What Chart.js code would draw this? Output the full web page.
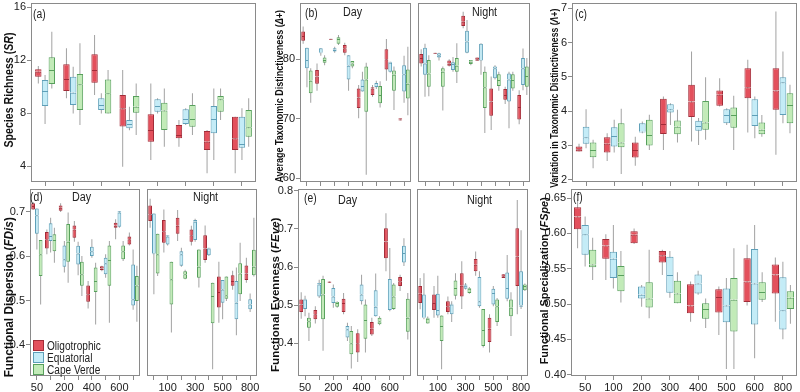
<!DOCTYPE html>
<html><head><meta charset="utf-8">
<script src="https://cdn.jsdelivr.net/npm/chart.js@4/dist/chart.umd.min.js"></script>
<style>
html,body{margin:0;padding:0;background:#fff;}
#wrap{position:relative;width:800px;height:392px;overflow:hidden;font-family:"Liberation Sans Narrow","Arial Narrow","Liberation Sans",Arial,sans-serif;color:#222;}
.t{position:absolute;white-space:nowrap;line-height:1;font-size:12px;color:#222;transform:scaleX(0.86);transform-origin:left center;}
.yt{position:absolute;white-space:nowrap;line-height:1;font-weight:bold;color:#111;}
.leg{position:absolute;font-size:12px;line-height:12px;color:#222;}
.leg div{height:12px;white-space:nowrap;}
.leg .nm{display:inline-block;transform:scaleX(0.84);transform-origin:left center;vertical-align:top;}
.sw{display:inline-block;width:11px;height:11px;border:1px solid;box-sizing:border-box;vertical-align:top;margin:0 3px 0 0;}
</style></head>
<body><div id="wrap"></div>
<script>
// ---- categories & tick labels ----
const depths = ['50','100','200','300','400','500','600','800'];
const allTickLabels = ['50','100','200','300','400','500','600','800'];
const dayTickLabels = ['50','','200','','400','','600',''];
const nightTickLabels = ['','100','','300','','500','','800'];
const noTickLabels = ['','','','','','','',''];
const seriesNames = ['Oligotrophic','Equatorial','Cape Verde'];
const yTicksA = ['4','8','12','16'];
const yTicksB = ['60','70','80'];
const yTicksC = ['2','3','4','5','6','7'];
const yTicksD = ['0.4','0.5','0.6','0.7'];
const yTicksE = ['0.4','0.5','0.6','0.7','0.8'];
const yTicksF = ['0.40','0.45','0.50','0.55','0.60','0.65'];

// ---- values: [min, q1, median, q3, max] per depth ----
const aOligo = [[10.25,10.76,11.13,11.31,11.56],[9.12,9.67,10.58,11.69,12.9],[9.37,10.3,11.26,12.45,13.9],[3.95,6.98,8.36,9.37,11.26],[4.45,5.84,6.72,7.91,10.25],[5.46,6.09,6.34,7.1,7.48],[3.45,5.21,5.84,6.65,6.72],[3.45,5.21,6.09,7.73,7.73]];
const aEquat = [[7.18,8.54,9.67,10.5,10.88],[7.98,8.61,9.55,10.76,11.51],[7.98,8.24,8.61,9.12,9.5],[6.7,6.85,7.18,7.48,8.49],[7.98,8.11,8.54,9.04,9.12],[7.1,7.18,7.56,8.29,8.36],[4.45,6.47,7.56,8.54,9.87],[4.45,5.39,5.66,7.73,8.36]];
const aCape = [[9.87,10.2,11.26,12.22,14.16],[7.1,8.24,10.18,10.96,13.28],[7.98,7.98,9.5,10.55,11.26],[6.34,8.03,8.49,9.29,10.25],[5.46,6.72,8.19,8.79,9.87],[6.34,6.97,7.56,8.61,9.5],[7.48,8.11,9.04,9.29,9.87],[5.46,6.22,6.93,8.24,9.12]];

const bDayOligo = [[82.6,83.1,83.9,84.65,85.5],[74.7,75.9,77.1,78.2,79.3],[83.25,83.25,83.35,83.45,83.45],[80.7,81.1,81.85,82.4,82.8],[70.1,71.8,73.6,75.1,75.7],[73.7,74.0,75.1,75.3,75.7],[76.4,78.3,80.0,81.7,83.4],[69.7,69.7,69.9,70.1,70.1]];
const bDayEquat = [[75.3,78.5,79.9,81.96,81.96],[80.6,81.0,81.1,81.85,81.85],[81.1,81.3,81.6,81.85,82.1],[74.7,76.6,78.9,80.7,80.7],[74.6,74.6,75.5,76.6,77.9],[75.0,75.3,75.5,76.0,76.4],[77.8,77.9,79.4,79.6,79.6],[72.7,74.6,77.5,79.0,80.6]];
const bDayCape = [[72.7,74.3,76.4,78.1,78.5],[79.0,79.4,79.9,80.3,80.7],[82.4,82.6,83.4,83.7,84.1],[78.5,78.8,79.3,79.7,79.7],[60.6,71.2,76.6,78.8,79.4],[71.9,72.6,74.0,75.5,76.3],[71.5,74.7,77.4,78.1,78.8],[70.6,73.4,75.9,78.3,82.1]];
const bNightOligo = [[78.8,79.3,80.2,80.9,81.7],[80.9,80.9,81.0,81.1,81.1],[78.8,78.9,79.3,79.8,80.0],[85.2,85.6,86.3,87.3,88.0],[79.75,79.75,80.0,80.3,80.3],[68.1,70.5,72.9,75.1,77.1],[72.5,73.2,74.0,75.0,75.4],[69.1,69.9,72.0,74.0,74.8]];
const bNightEquat = [[73.7,77.4,79.3,81.96,82.6],[79.8,80.3,80.7,81.0,81.1],[77.9,78.2,79.2,79.5,80.4],[81.0,81.1,83.0,84.8,86.6],[77.4,79.8,79.9,82.6,82.7],[76.6,76.8,78.5,78.8,79.0],[68.4,72.9,76.6,77.6,77.9],[74.8,75.7,78.5,80.2,81.8]];
const bNightCape = [[73.8,75.4,77.6,79.9,80.7],[71.4,75.4,77.9,78.5,78.8],[76.0,77.9,78.9,80.2,82.7],[79.0,79.2,79.6,79.9,79.9],[67.6,71.8,75.3,77.9,78.8],[74.7,75.5,76.5,77.5,77.9],[74.7,75.1,76.5,77.5,77.9],[74.0,75.4,77.2,78.8,80.2]];

const cOligo = [[2.83,2.83,2.89,2.97,3.05],[2.55,2.8,3.05,3.24,3.36],[2.41,2.65,2.87,3.09,3.26],[2.87,3.34,3.63,4.36,4.43],[3.12,3.83,4.28,4.77,5.74],[4.14,4.16,4.48,4.6,4.96],[3.38,4.38,4.7,5.25,5.5],[2.73,4.04,4.6,5.25,6.9]];
const cEquat = [[2.92,3.05,3.24,3.55,4.06],[2.8,2.97,3.28,3.53,3.75],[3.36,3.38,3.4,3.65,3.7],[3.6,3.96,4.06,4.2,4.23],[3.02,3.43,3.57,3.72,3.8],[3.6,3.65,3.89,4.06,4.09],[3.21,3.57,3.89,4.35,4.43],[3.65,3.89,4.84,4.99,5.74]];
const cCape = [[2.34,2.66,2.87,3.09,3.17],[2.17,2.95,3.09,3.65,4.07],[2.87,3.0,3.31,3.75,3.9],[3.09,3.33,3.55,3.73,4.04],[3.17,3.46,3.67,4.3,4.99],[2.87,3.52,3.89,4.11,4.45],[3.26,3.33,3.46,3.67,3.89],[3.36,3.65,4.18,4.52,4.77]];

const dDayOligo = [[0.704,0.705,0.713,0.719,0.722],[0.604,0.617,0.638,0.654,0.66],[0.699,0.702,0.709,0.714,0.719],[0.632,0.641,0.66,0.669,0.679],[0.482,0.497,0.514,0.534,0.544],[0.566,0.568,0.572,0.577,0.578],[0.638,0.664,0.669,0.675,0.683],[0.624,0.626,0.638,0.644,0.653]];
const dDayEquat = [[0.615,0.65,0.692,0.707,0.707],[0.608,0.634,0.645,0.674,0.686],[0.563,0.576,0.593,0.624,0.634],[0.557,0.581,0.606,0.623,0.632],[0.596,0.6,0.611,0.621,0.638],[0.551,0.559,0.584,0.596,0.604],[0.664,0.666,0.698,0.701,0.701],[0.479,0.489,0.503,0.581,0.615]];
const dDayCape = [[0.491,0.555,0.604,0.636,0.636],[0.585,0.611,0.636,0.649,0.664],[0.54,0.587,0.632,0.672,0.698],[0.51,0.533,0.559,0.587,0.6],[0.446,0.519,0.544,0.574,0.585],[0.45,0.533,0.591,0.624,0.634],[0.589,0.593,0.611,0.624,0.634],[0.452,0.499,0.534,0.555,0.578]];
const dNightOligo = [[0.664,0.679,0.694,0.714,0.729],[0.608,0.63,0.656,0.681,0.705],[0.634,0.65,0.668,0.686,0.704],[0.624,0.632,0.647,0.66,0.668],[0.585,0.591,0.617,0.647,0.669],[0.45,0.484,0.519,0.554,0.587],[0.524,0.533,0.544,0.557,0.567],[0.54,0.546,0.561,0.579,0.596]];
const dNightEquat = [[0.514,0.604,0.606,0.696,0.696],[0.624,0.626,0.644,0.647,0.647],[0.576,0.578,0.604,0.611,0.619],[0.632,0.636,0.677,0.681,0.684],[0.6,0.602,0.617,0.619,0.619],[0.458,0.495,0.525,0.546,0.546],[0.422,0.458,0.495,0.544,0.574],[0.474,0.48,0.491,0.503,0.516]];
const dNightCape = [[0.555,0.561,0.604,0.65,0.65],[0.428,0.491,0.548,0.587,0.587],[0.548,0.549,0.559,0.566,0.569],[0.529,0.551,0.576,0.615,0.615],[0.345,0.449,0.51,0.54,0.54],[0.499,0.504,0.512,0.554,0.554],[0.499,0.514,0.561,0.584,0.63],[0.554,0.557,0.576,0.614,0.686]];

const eDayOligo = [[0.464,0.482,0.502,0.515,0.534],[0.452,0.463,0.476,0.487,0.497],[0.558,0.558,0.56,0.562,0.562],[0.476,0.482,0.506,0.517,0.532],[0.351,0.376,0.4,0.426,0.437],[0.419,0.423,0.438,0.456,0.467],[0.589,0.623,0.667,0.702,0.741],[0.537,0.55,0.563,0.574,0.58]];
const eDayEquat = [[0.471,0.49,0.515,0.517,0.525],[0.519,0.523,0.554,0.558,0.567],[0.493,0.506,0.523,0.545,0.554],[0.406,0.415,0.437,0.445,0.454],[0.502,0.51,0.528,0.554,0.58],[0.47,0.471,0.496,0.539,0.583],[0.484,0.487,0.49,0.569,0.65],[0.603,0.612,0.637,0.656,0.676]];
const eDayCape = [[0.406,0.441,0.458,0.467,0.48],[0.38,0.463,0.528,0.569,0.577],[0.493,0.496,0.506,0.508,0.51],[0.334,0.371,0.4,0.432,0.445],[0.376,0.412,0.461,0.502,0.515],[0.447,0.45,0.458,0.467,0.471],[0.487,0.49,0.523,0.554,0.558],[0.41,0.43,0.467,0.517,0.532]];
const eNightOligo = [[0.489,0.506,0.53,0.55,0.571],[0.467,0.487,0.506,0.528,0.55],[0.476,0.482,0.497,0.51,0.523],[0.49,0.523,0.551,0.584,0.615],[0.577,0.589,0.606,0.621,0.641],[0.376,0.403,0.438,0.467,0.476],[0.571,0.571,0.576,0.581,0.581],[0.476,0.55,0.628,0.702,0.776]];
const eNightEquat = [[0.463,0.467,0.467,0.528,0.584],[0.467,0.473,0.487,0.53,0.577],[0.456,0.476,0.502,0.504,0.51],[0.541,0.543,0.551,0.554,0.558],[0.493,0.497,0.51,0.574,0.589],[0.497,0.502,0.532,0.543,0.55],[0.51,0.517,0.545,0.586,0.632],[0.49,0.496,0.499,0.589,0.697]];
const eNightCape = [[0.452,0.452,0.464,0.467,0.47],[0.332,0.406,0.445,0.473,0.473],[0.515,0.525,0.545,0.565,0.584],[0.53,0.532,0.543,0.545,0.548],[0.389,0.393,0.435,0.49,0.49],[0.445,0.456,0.497,0.515,0.519],[0.419,0.471,0.493,0.515,0.534],[0.537,0.539,0.55,0.554,0.557]];

const fOligo = [[0.579,0.606,0.624,0.637,0.648],[0.534,0.564,0.583,0.592,0.599],[0.585,0.586,0.598,0.603,0.607],[0.541,0.559,0.569,0.575,0.577],[0.475,0.487,0.498,0.528,0.532],[0.456,0.488,0.51,0.521,0.525],[0.498,0.503,0.532,0.565,0.584],[0.475,0.515,0.542,0.556,0.566]];
const fEquat = [[0.553,0.57,0.599,0.612,0.624],[0.522,0.537,0.564,0.574,0.612],[0.496,0.508,0.513,0.525,0.527],[0.509,0.516,0.541,0.567,0.575],[0.513,0.515,0.529,0.542,0.547],[0.408,0.474,0.498,0.522,0.537],[0.423,0.471,0.529,0.578,0.612],[0.45,0.464,0.491,0.538,0.56]];
const fCape = [[0.534,0.552,0.556,0.577,0.594],[0.502,0.518,0.541,0.554,0.575],[0.48,0.495,0.508,0.531,0.577],[0.501,0.501,0.515,0.533,0.545],[0.466,0.479,0.493,0.501,0.508],[0.408,0.461,0.506,0.537,0.579],[0.503,0.506,0.517,0.531,0.545],[0.472,0.493,0.509,0.518,0.527]];

// ---- styles ----
const fills = ['#e3505c','#c4ecf7','#c2ebb8'];
const edges = ['#a22c38','#5e9fb8','#57a05c'];
const whiskerColor = '#a2a2a2';
const FONT = '"Liberation Sans Narrow", "Arial Narrow", "Liberation Sans", Arial, sans-serif';
Chart.defaults.font.family = FONT;
Chart.defaults.font.size = 11;
Chart.defaults.color = '#222';

const framePlugin = {
  id: 'frame',
  afterDatasetsDraw(chart) {
    const {ctx, chartArea: a} = chart;
    ctx.save();
    ctx.strokeStyle = '#8a8a8a';
    ctx.lineWidth = 1;
    ctx.strokeRect(a.left + 0.5, a.top + 0.5, a.right - a.left - 1, a.bottom - a.top - 1);
    ctx.restore();
  }
};

const panels = [
  {area:[31,3,256,182], y:[2.79,16.33], yt:yTicksA, yAxis:true, xl:noTickLabels, xlab:false, data:[aOligo,aEquat,aCape], cat:0.72, bar:0.95},
  {area:[300,3,411,182], y:[59.38,89.46], yt:yTicksB, yAxis:true, xl:noTickLabels, xlab:false, data:[bDayOligo,bDayEquat,bDayCape], cat:0.82, bar:1},
  {area:[418,3,530,182], y:[59.38,89.46], yt:yTicksB, yAxis:false, xl:noTickLabels, xlab:false, data:[bNightOligo,bNightEquat,bNightCape], cat:0.82, bar:1},
  {area:[572,3,797,182], y:[1.94,7.15], yt:yTicksC, yAxis:true, xl:noTickLabels, xlab:false, data:[cOligo,cEquat,cCape], cat:0.75, bar:0.95},
  {area:[30,189,140,376], y:[0.330,0.751], yt:yTicksD, yAxis:true, xl:dayTickLabels, xlab:true, data:[dDayOligo,dDayEquat,dDayCape], cat:0.82, bar:1},
  {area:[147,189,257,376], y:[0.330,0.751], yt:yTicksD, yAxis:false, xl:nightTickLabels, xlab:true, data:[dNightOligo,dNightEquat,dNightCape], cat:0.82, bar:1},
  {area:[298,189,411,376], y:[0.314,0.805], yt:yTicksE, yAxis:true, xl:dayTickLabels, xlab:true, data:[eDayOligo,eDayEquat,eDayCape], cat:0.82, bar:1},
  {area:[417,189,528,376], y:[0.314,0.805], yt:yTicksE, yAxis:false, xl:nightTickLabels, xlab:true, data:[eNightOligo,eNightEquat,eNightCape], cat:0.82, bar:1},
  {area:[571,189,797,376], y:[0.398,0.663], yt:yTicksF, yAxis:true, xl:allTickLabels, xlab:true, data:[fOligo,fEquat,fCape], cat:0.8, bar:0.97}
];

const wrap = document.getElementById('wrap');

function makeChart(p) {
  const [l, t, r, b] = p.area;
  const padL = 4, padR = 8, padT = 12;
  const yW = p.yAxis ? 30 : 0;
  const xH = p.xlab ? 16 : 8;
  const W = padL + yW + (r - l) + padR;
  const H = padT + (b - t) + xH;
  const cv = document.createElement('canvas');
  cv.width = W; cv.height = H;
  cv.style.cssText = `position:absolute;left:${l - yW - padL}px;top:${t - padT}px;width:${W}px;height:${H}px;`;
  wrap.appendChild(cv);
  const datasets = [];
  p.data.forEach((arr, k) => {
    datasets.push({label: seriesNames[k] + ' range', data: arr.map(d => [d[0], d[4]]), stack: 's' + k, order: 2,
      backgroundColor: whiskerColor, borderWidth: 0, maxBarThickness: 1, inflateAmount: 0,
      categoryPercentage: p.cat, barPercentage: p.bar});
    datasets.push({label: seriesNames[k], data: arr.map(d => [d[1], d[2]]), stack: 's' + k, order: 1,
      backgroundColor: fills[k], borderColor: edges[k], borderWidth: {top:1,left:1,right:1,bottom:1}, borderSkipped: false, inflateAmount: 0,
      categoryPercentage: p.cat, barPercentage: p.bar});
    datasets.push({label: seriesNames[k] + ' upper', data: arr.map(d => [d[2], d[3]]), stack: 's' + k, order: 1,
      backgroundColor: fills[k], borderColor: edges[k], borderWidth: {top:1,left:1,right:1,bottom:0}, borderSkipped: false, inflateAmount: 0,
      categoryPercentage: p.cat, barPercentage: p.bar});
  });
  const tickVals = p.yt.map(Number);
  new Chart(cv, {
    type: 'bar',
    data: {labels: depths, datasets},
    plugins: [framePlugin],
    options: {
      responsive: false, animation: false, devicePixelRatio: 1, events: [],
      layout: {padding: {top: padT, right: padR, left: padL, bottom: 0}},
      plugins: {legend: {display: false}, tooltip: {enabled: false}},
      scales: {
        x: {
          type: 'category', stacked: true, offset: true,
          grid: {display: true, offset: false, drawOnChartArea: false, drawTicks: true, tickLength: 4, color: '#8a8a8a'},
          border: {display: false},
          ticks: {display: p.xlab, autoSkip: false, maxRotation: 0, padding: 1, color: '#222',
                  font: {size: 11}, callback: (v, i) => p.xl[i]},
          afterFit: s => { s.height = xH; }
        },
        y: {
          type: 'linear', stacked: false, display: p.yAxis, min: p.y[0], max: p.y[1],
          afterBuildTicks: s => { s.ticks = tickVals.map(v => ({value: v})); },
          grid: {display: true, drawOnChartArea: false, drawTicks: true, tickLength: 4, color: '#8a8a8a'},
          border: {display: false},
          ticks: {padding: 1, color: '#222', font: {size: 11}, callback: (v, i) => p.yt[i]},
          afterFit: s => { s.width = yW; }
        }
      }
    }
  });
}
panels.forEach(makeChart);

// ---- texts ----
function addText(cls, html, css) {
  const d = document.createElement('div');
  d.className = cls; d.innerHTML = html; d.style.cssText = css;
  wrap.appendChild(d);
  return d;
}
function addTitle(html, cx, cy, len, size) {
  const d = addText('yt', html, `left:${cx}px;top:${cy}px;font-size:${size}px;`);
  const w = d.offsetWidth, h = d.offsetHeight;
  const s = len / w;
  d.style.left = (cx - w / 2) + 'px';
  d.style.top = (cy - h / 2) + 'px';
  d.style.transform = `rotate(-90deg) scaleX(${s})`;
}
addTitle('Species Richness (<i>SR</i>)', 9, 90, 115, 12);
addTitle('Average Taxonomic Distinctiveness (<i>Δ+</i>)', 279, 96, 173, 10.5);
addTitle('Variation in Taxonomic Distinctiveness (<i>Λ+</i>)', 554, 98, 179, 10.5);
addTitle('Functional Dispersion (<i>FDis</i>)', 9, 297, 160, 12.5);
addTitle('Functional Evenness (<i>FEve</i>)', 275, 295, 154, 11.5);
addTitle('Functional Specialization (<i>FSpe</i>)', 544, 281, 167, 11.5);

addText('t', '(a)', 'left:33px;top:8px;');
addText('t', '(b)', 'left:305px;top:7px;');
addText('t', 'Day', 'left:343px;top:6px;font-size:12.5px;');
addText('t', 'Night', 'left:472px;top:6px;font-size:12.5px;');
addText('t', '(c)', 'left:575px;top:8px;');
addText('t', '(d)', 'left:30px;top:191px;');
addText('t', 'Day', 'left:72px;top:191px;font-size:12.5px;');
addText('t', 'Night', 'left:193px;top:191px;font-size:12.5px;');
addText('t', '(e)', 'left:304px;top:192px;');
addText('t', 'Day', 'left:338px;top:194px;font-size:12.5px;');
addText('t', 'Night', 'left:467px;top:194px;font-size:12.5px;');
addText('t', '(f)', 'left:573px;top:191px;');

const leg = document.createElement('div');
leg.className = 'leg';
leg.style.cssText = 'left:33px;top:340px;';
leg.innerHTML = seriesNames.map((n, k) =>
  `<div><span class="sw" style="background:${fills[k]};border-color:${edges[k]}"></span><span class="nm">${n}</span></div>`).join('');
wrap.appendChild(leg);
</script>
</body></html>
